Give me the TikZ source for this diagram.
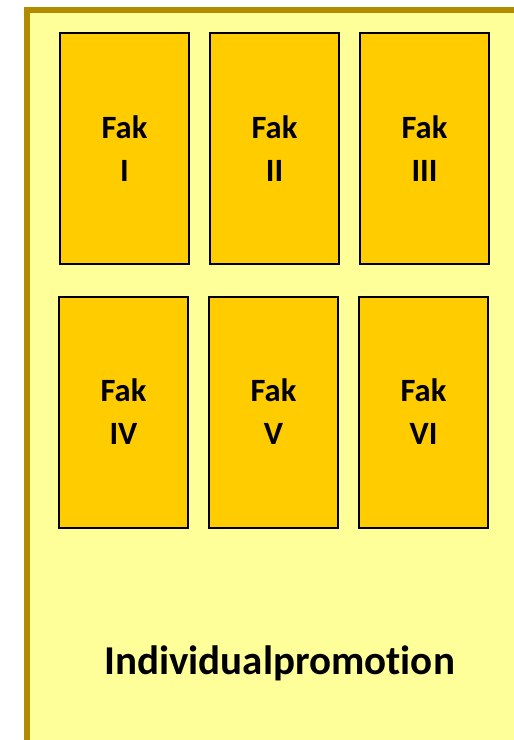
\documentclass[tikz,border=0pt]{standalone}
\usepackage{fontspec}
\setsansfont{Carlito}[Ligatures=NoCommon]
\usepackage{xcolor}
\definecolor{bandgold}{HTML}{B38B00}
\definecolor{paleyellow}{HTML}{FFFF99}
\definecolor{fakgold}{HTML}{FFCC00}

\begin{document}
\begin{tikzpicture}[x=1pt,y=-1pt,
	fakbox/.style={draw=black, line width=2pt, fill=fakgold,
		minimum width=129pt, minimum height=231pt, inner sep=0pt,
		align=center, font=\sffamily\bfseries\fontsize{32.5}{43}\selectfont},
	promolabel/.style={font=\sffamily\bfseries\fontsize{41}{48}\selectfont}]
			%\draw[help lines] (0,0) grid (514,740);
			
			\useasboundingbox (0,0) rectangle (514,740);
			\clip (0,0) rectangle (514,740);
			
			\node[draw=bandgold, line width=6pt, fill=paleyellow, outer sep=0pt,
			minimum width=510pt, minimum height=760pt, anchor=north west] (frame) at (27,9.5) {};
			
			\node[fakbox] (fak1) at (124.5,148.5) {Fak\\I};
			\node[fakbox] (fak2) at (274.5,148.5) {Fak\\II};
			\node[fakbox] (fak3) at (424.5,148.5) {Fak\\III};
			
			\node[fakbox] (fak4) at (123.5,412) {Fak\\IV};
			\node[fakbox] (fak5) at (273.5,412) {Fak\\V};
			\node[fakbox] (fak6) at (423.5,412) {Fak\\VI};
			
			\node[promolabel] (promo) at (279.5,663.5) {Individualpromotion};
			
\end{tikzpicture}
\end{document}
